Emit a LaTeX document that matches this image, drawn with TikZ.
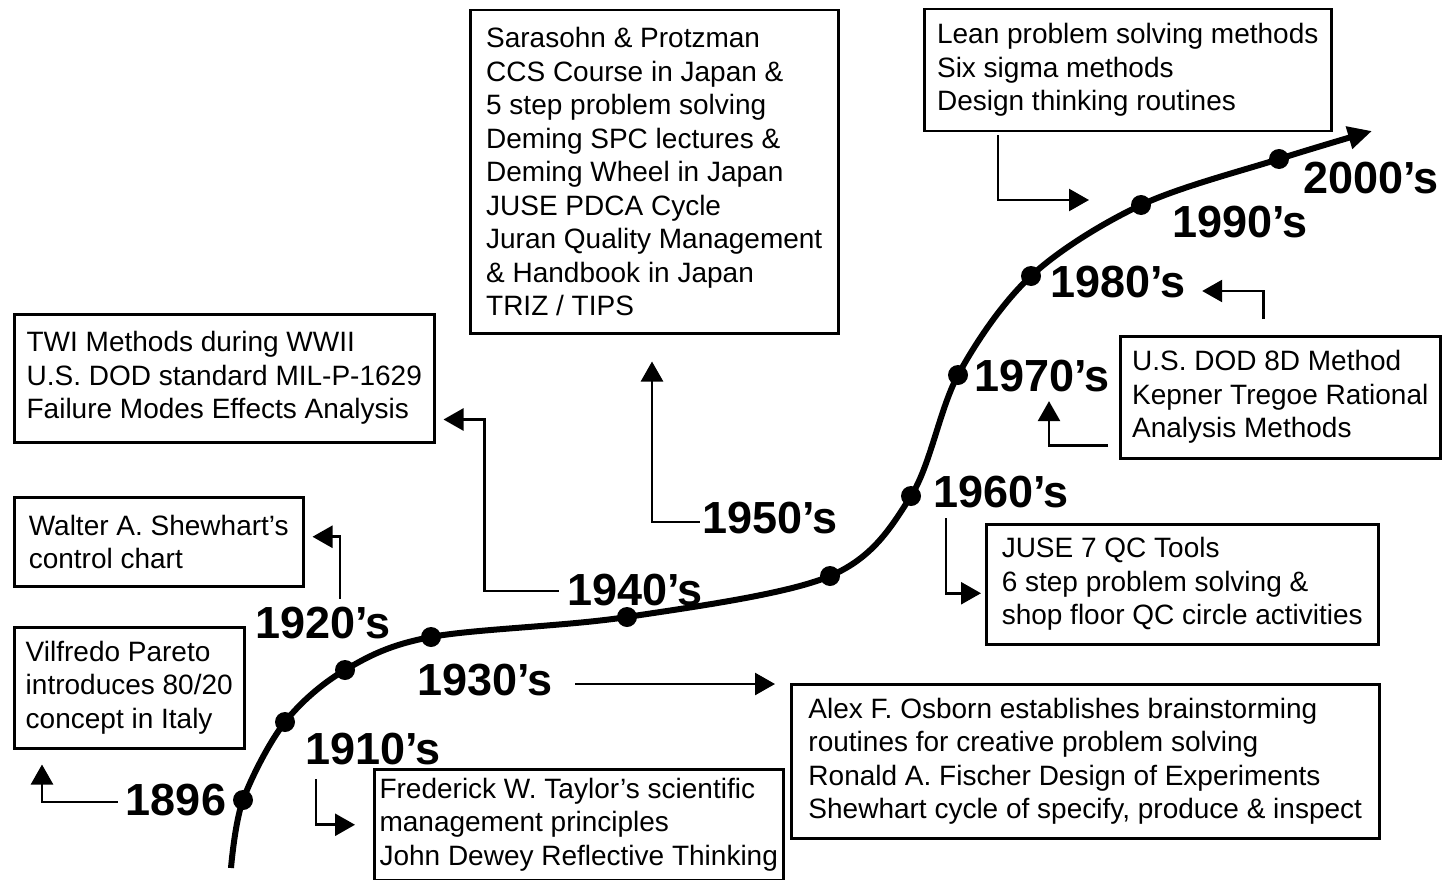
\documentclass[tikz,border=0pt]{standalone}
\usepackage{fontspec}
\setmainfont{Liberation Sans}
\usepackage{tikz}
\usetikzlibrary{arrows.meta, positioning, calc}
\tikzset{
    eventbox/.style={draw, rectangle, line width=2.5pt, anchor=north west, align=left, inner sep=0pt, font=\fontsize{28}{33.5}\selectfont},
    yearlabel/.style={font=\fontsize{45}{50}\selectfont\bfseries, inner sep=2pt},
    yeardot/.style={circle, fill=black, minimum size=20pt, inner sep=0pt},
    timeline/.style={line width=6pt, -{Triangle[length=24pt, width=22pt]}},
    linkarrow/.style={line width=2.6pt, -{Triangle[length=20pt, width=22pt]}},
}

\begin{document}
\begin{tikzpicture}[x=1pt, y=-1pt]
    \path[fill=white, use as bounding box] (0,0) rectangle (1445,880);

    % Dots on the timeline
    \node[yeardot] (d1896) at (243,800) {};
    \node[yeardot] (d1910) at (285,722) {};
    \node[yeardot] (d1920) at (345,670) {};
    \node[yeardot] (d1930) at (431,637) {};
    \node[yeardot] (d1940) at (627,617) {};
    \node[yeardot] (d1950) at (830,576) {};
    \node[yeardot] (d1960) at (911,496) {};
    \node[yeardot] (d1970) at (958,375) {};
    \node[yeardot] (d1980) at (1031,276) {};
    \node[yeardot] (d1990) at (1141,205) {};
    \node[yeardot] (d2000) at (1279,159) {};
    \coordinate (tstart) at (231,868);
    \coordinate (tend) at (1372,131);

    % Timeline
    \draw[timeline] plot[smooth, tension=0.55] coordinates {(tstart) (d1896.center) (d1910.center) (d1920.center) (d1930.center) (d1940.center) (d1950.center) (d1960.center) (d1970.center) (d1980.center) (d1990.center) (d2000.center) (tend)};

    % Year labels
    \node[yearlabel] (y1896) at (176,800) {1896};
    \node[yearlabel] (y1910) at (373,749) {1910’s};
    \node[yearlabel] (y1920) at (323,623) {1920’s};
    \node[yearlabel] (y1930) at (485,680) {1930’s};
    \node[yearlabel] (y1940) at (635,590) {1940’s};
    \node[yearlabel] (y1950) at (770,518) {1950’s};
    \node[yearlabel] (y1960) at (1001,492) {1960’s};
    \node[yearlabel] (y1970) at (1042,376) {1970’s};
    \node[yearlabel] (y1980) at (1118,282) {1980’s};
    \node[yearlabel] (y1990) at (1240,222) {1990’s};
    \node[yearlabel] (y2000) at (1371,178) {2000’s};

    % Event boxes
    \node[eventbox, minimum width=230pt, minimum height=121pt] (pareto) at (13,626) {Vilfredo Pareto\\introduces 80/20\\concept in Italy};
    \node[eventbox, minimum width=289pt, minimum height=89pt] (shewhart) at (13,496) {Walter A. Shewhart’s\\control chart};
    \node[eventbox, minimum width=420pt, minimum height=128pt] (twi) at (13,313) {TWI Methods during WWII\\U.S. DOD standard MIL-P-1629\\Failure Modes Effects Analysis};
    \node[eventbox, minimum width=368pt, minimum height=323pt] (sara) at (469,9) {Sarasohn \& Protzman\\CCS Course in Japan \&\\5 step problem solving\\Deming SPC lectures \&\\Deming Wheel in Japan\\JUSE PDCA Cycle\\Juran Quality Management\\\& Handbook in Japan\\TRIZ / TIPS};
    \node[eventbox, minimum width=407pt, minimum height=122pt] (lean) at (923,8) {Lean problem solving methods\\Six sigma methods\\Design thinking routines};
    \node[eventbox, minimum width=320pt, minimum height=122pt] (dod) at (1119,335) {U.S. DOD 8D Method\\Kepner Tregoe Rational\\Analysis Methods};
    \node[eventbox, minimum width=392pt, minimum height=120pt] (juse) at (985,523) {JUSE 7 QC Tools\\6 step problem solving \&\\shop floor QC circle activities};
    \node[eventbox, minimum width=588pt, minimum height=154pt] (osborn) at (790,683) {Alex F. Osborn establishes brainstorming\\routines for creative problem solving\\Ronald A. Fischer Design of Experiments\\Shewhart cycle of specify, produce \& inspect};
    \node[eventbox, minimum width=409pt, minimum height=111pt] (taylor) at (373,768) {Frederick W. Taylor’s scientific\\management principles\\John Dewey Reflective Thinking};

    % Links
    \draw[linkarrow] ($(y1896.west)+(-6,2)$) -| ($(pareto.south west)+(29,15)$);
    \draw[linkarrow] ($(y1910.south west)+(13,12)$) |- ($(taylor.west)+(-18,0)$);
    \draw[linkarrow] ($(y1920.north)+(17,-6)$) |- ($(shewhart.east)+(8,-5)$);
    \draw[linkarrow] ($(y1930.east)+(20,4)$) -- ($(osborn.west |- y1930.east)+(-15,4)$);
    \draw[linkarrow] ($(y1940.west)+(-6,1)$) -| ($(twi.south east)+(49,-24)$) -- ($(twi.south east)+(8,-24)$);
    \draw[linkarrow] ($(y1950.west)+(0,4)$) -| ($(sara.south west)+(183,27)$);
    \draw[linkarrow] ($(y1960.south west)+(15,8)$) |- ($(juse.west)+(-4,9)$);
    \draw[linkarrow] ($(dod.south west)+(-11,-14)$) -| ($(y1970.south)+(7,7)$);
    \draw[linkarrow] ($(dod.north)+(-17,-16)$) |- ($(y1980.east)+(14,9)$);
    \draw[linkarrow] ($(lean.south west)+(75,3)$) |- ($(d1990.center)+(-52,-5)$);
\end{tikzpicture}
\end{document}
